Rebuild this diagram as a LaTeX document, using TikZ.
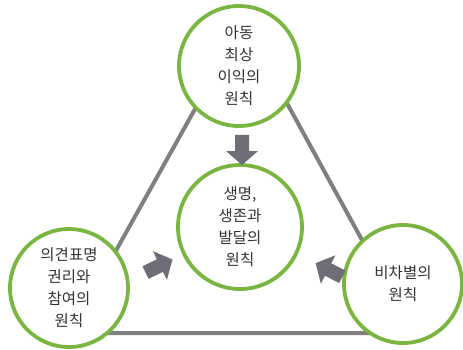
\documentclass[tikz,border=0pt]{standalone}
\usepackage{fontspec}
\setmainfont{Noto Sans CJK KR}
\definecolor{ringgreen}{HTML}{7AB441}
\definecolor{linegray}{HTML}{7F7F7F}
\definecolor{arrowgray}{HTML}{6E6E78}
\definecolor{txt}{HTML}{333333}
\begin{document}
\begin{tikzpicture}[x=1pt,y=-1pt,
  ring/.style={circle, draw=ringgreen, line width=3.8pt, fill=white, text=txt,
    align=center, inner sep=0pt, font=\fontsize{15.5}{22}\selectfont},
  edge/.style={draw=linegray, line width=4pt},
  blockarrow/.style={fill=arrowgray}]
\useasboundingbox (0,0) rectangle (463,350);
\coordinate (vt) at (243,23);
\coordinate (vl) at (70,333);
\coordinate (vr) at (413,333);
\draw[edge] (vt) -- (vl) -- (vr) -- cycle;
\node[ring, minimum size=120pt] (top) at (239,66) {아동\\최상\\이익의\\원칙};
\node[ring, minimum size=124pt] (mid) at (240,227) {생명,\\생존과\\발달의\\원칙};
\node[ring, minimum size=118pt] (left) at (69,288) {의견표명\\권리와\\참여의\\원칙};
\node[ring, minimum size=118pt] (right) at (403,284) {비차별의\\원칙};
\foreach \ax/\ay/\r in {242/150/-90, 159/266/26, 329/270/153}{
  \begin{scope}[shift={(\ax,\ay)}, rotate=\r]
    \fill[blockarrow] (-15,-7) -- (1,-7) -- (1,-16) -- (15,0) -- (1,16) -- (1,7) -- (-15,7) -- cycle;
  \end{scope}
}
\end{tikzpicture}
\end{document}
